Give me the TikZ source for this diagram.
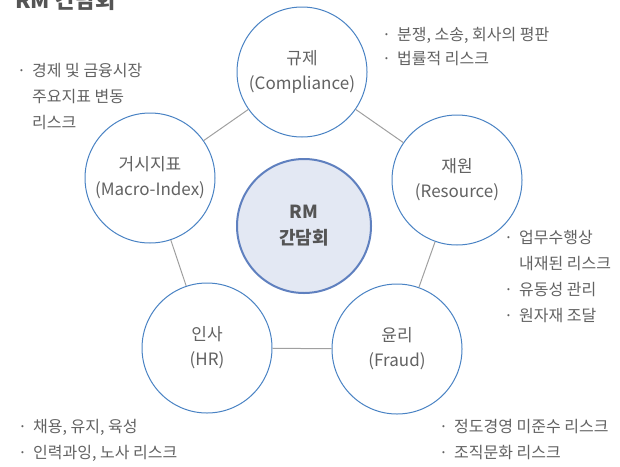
\documentclass[tikz,border=0pt]{standalone}
\usepackage{fontspec}
\setmainfont{Noto Sans CJK KR}
\definecolor{ringblue}{HTML}{4A83C4}
\definecolor{hubblue}{HTML}{5F80BF}
\definecolor{hubfill}{HTML}{E3E8F3}
\definecolor{edgegray}{HTML}{A0A0A0}
\definecolor{txtgray}{HTML}{626262}
\definecolor{titlegray}{HTML}{555555}
\newcommand{\bul}{\makebox[0pt][r]{·\hspace{6pt}}}
\tikzset{
  ring/.style={circle, draw=ringblue, line width=1pt, fill=white, minimum size=130pt, inner sep=0pt, align=center, text=txtgray, font=\fontsize{17}{25}\selectfont},
  hub/.style={circle, draw=hubblue, line width=2pt, fill=hubfill, minimum size=134pt, inner sep=0pt, align=center, text=titlegray, font=\fontsize{18}{26}\selectfont\bfseries},
  link/.style={draw=edgegray, line width=1pt},
  note/.style={anchor=base west, inner sep=0pt, text=txtgray, font=\fontsize{16}{16}\selectfont},
}
\begin{document}
\begin{tikzpicture}[x=1pt,y=-1pt]
\useasboundingbox (0,0) rectangle (620,466);
\node[anchor=base west, inner sep=0pt, text=titlegray, font=\fontsize{22}{22}\selectfont\bfseries] (title) at (15,8) {RM 간담회};
% circles
\node[ring] (comp) at (302,72) {규제\\(Compliance)};
\node[ring] (res) at (457,180) {재원\\(Resource)};
\node[ring] (macro) at (150,178) {거시지표\\(Macro-Index)};
\node[ring] (hr) at (207,348) {인사\\(HR)};
\node[ring] (fraud) at (397,349) {윤리\\(Fraud)};
\node[hub] (hub) at (304,226) {RM\\간담회};
% pentagon edges
\draw[link] (comp) -- (res);
\draw[link] (res) -- (fraud);
\draw[link] (fraud) -- (hr);
\draw[link] (hr) -- (macro);
\draw[link] (macro) -- (comp);
% notes top right
\node[note] (n1a) at (397,40) {\bul 분쟁, 소송, 회사의 평판};
\node[note] (n1b) at (397,64) {\bul 법률적 리스크};
% notes top left
\node[note] (n2a) at (32,76) {\bul 경제 및 금융시장};
\node[note] (n2b) at (32,102) {주요지표 변동};
\node[note] (n2c) at (32,128) {리스크};
% notes right
\node[note] (n3a) at (519,243) {\bul 업무수행상};
\node[note] (n3b) at (519,269) {내재된 리스크};
\node[note] (n3c) at (519,295) {\bul 유동성 관리};
\node[note] (n3d) at (519,321) {\bul 원자재 조달};
% notes bottom left
\node[note] (n4a) at (33,432) {\bul 채용, 유지, 육성};
\node[note] (n4b) at (33,458) {\bul 인력과잉, 노사 리스크};
% notes bottom right
\node[note] (n5a) at (454,432) {\bul 정도경영 미준수 리스크};
\node[note] (n5b) at (454,458) {\bul 조직문화 리스크};
\end{tikzpicture}
\end{document}
